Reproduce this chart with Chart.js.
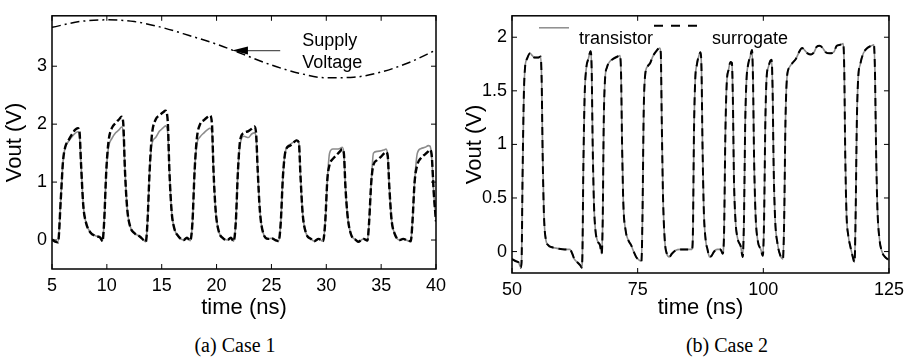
<!DOCTYPE html>
<html>
<head>
<meta charset="utf-8">
<script src="https://cdn.jsdelivr.net/npm/chart.js@4.4.0/dist/chart.umd.min.js"></script>
<style>
  body { margin: 0; background: #fff; width: 910px; height: 359px; position: relative; overflow: hidden; }
  .panel { position: absolute; top: 0; }
  .caption { position: absolute; top: 335px; line-height: 20px; font-family: "Liberation Serif", "Times New Roman", serif; font-size: 20px; color: #000; transform: translateX(-50%); white-space: nowrap; }
</style>
</head>
<body>
<div class="panel" style="left:0"><canvas id="case1" width="460" height="321"></canvas></div>
<div class="panel" style="left:460px"><canvas id="case2" width="450" height="321"></canvas></div>
<div class="caption" style="left:235px">(a) Case 1</div>
<div class="caption" style="left:727px">(b) Case 2</div>
<script>
// ---- Case 1 data ----
const case1XTicks = [5, 10, 15, 20, 25, 30, 35, 40];
const case1YTicks = [0, 1, 2, 3];

const supplyTime = [5, 7.5, 10, 12.5, 15, 17.5, 20, 22.5, 25, 27.5, 30, 32.5, 35, 37.5, 40];
const supplyVolt = [3.67, 3.77, 3.80, 3.77, 3.67, 3.53, 3.38, 3.20, 3.02, 2.88, 2.80, 2.81, 2.90, 3.06, 3.28];

const case1Time = [
  5.0, 5.3, 5.55, 5.8, 6.0, 6.2, 6.5, 6.8, 7.1, 7.35, 7.5, 7.65, 7.85, 8.1, 8.5, 9.0, 9.4, 9.6,
  9.75, 9.95, 10.15, 10.45, 10.8, 11.1, 11.35, 11.5, 11.65, 11.85, 12.1, 12.5, 13.0, 13.35, 13.55,
  13.7, 13.9, 14.1, 14.45, 14.8, 15.1, 15.35, 15.55, 15.7, 15.9, 16.15, 16.5, 17.0, 17.3, 17.6,
  17.8, 18.0, 18.2, 18.5, 18.85, 19.15, 19.4, 19.58, 19.72, 19.92, 20.2, 20.6, 21.0, 21.3, 21.55,
  21.75, 21.95, 22.15, 22.5, 22.9, 23.2, 23.45, 23.6, 23.75, 23.95, 24.25, 24.7, 25.0, 25.35, 25.65,
  25.85, 26.05, 26.3, 26.7, 27.0, 27.3, 27.5, 27.65, 27.85, 28.15, 28.6, 28.9, 29.3, 29.7,
  29.9, 30.1, 30.3, 30.6, 30.95, 31.25, 31.45, 31.6, 31.75, 31.95, 32.25, 32.7, 32.9, 33.4, 33.75,
  33.9, 34.1, 34.3, 34.65, 35.0, 35.3, 35.45, 35.6, 35.75, 35.95, 36.25, 36.7, 37.0, 37.4, 37.7,
  37.85, 38.05, 38.3, 38.65, 39.0, 39.3, 39.45, 39.6, 39.8, 40.0
];
const case1Transistor = [
  0.01, -0.03, -0.04, 0.7, 1.35, 1.6, 1.7, 1.78, 1.84, 1.87, 1.8, 1.3, 0.6, 0.3, 0.13, 0.07, 0.04, -0.02,
  0.3, 1.2, 1.6, 1.75, 1.85, 1.9, 1.95, 1.85, 1.2, 0.55, 0.25, 0.12, 0.06, 0.0, -0.03,
  0.3, 1.2, 1.65, 1.77, 1.88, 1.93, 1.97, 1.85, 1.2, 0.5, 0.2, 0.07, 0.0, 0.04, -0.01,
  0.3, 1.2, 1.65, 1.78, 1.85, 1.9, 1.93, 1.85, 1.2, 0.5, 0.15, 0.03, 0.0, 0.04, -0.02,
  0.3, 1.2, 1.65, 1.79, 1.77, 1.83, 1.85, 1.78, 1.2, 0.5, 0.12, 0.02, 0.03, 0.0, -0.02,
  0.3, 1.1, 1.55, 1.65, 1.69, 1.72, 1.68, 1.1, 0.45, 0.12, 0.02, -0.02, 0.02, -0.02,
  0.3, 1.05, 1.5, 1.57, 1.57, 1.58, 1.6, 1.5, 0.9, 0.4, 0.1, 0.0, -0.03, 0.02, -0.01,
  0.3, 1.0, 1.5, 1.53, 1.54, 1.56, 1.57, 1.45, 0.9, 0.35, 0.1, 0.0, 0.02, -0.01, -0.02,
  0.3, 1.0, 1.5, 1.58, 1.6, 1.63, 1.62, 1.45, 0.8, 0.32
];
const case1Surrogate = [
  0.01, -0.03, -0.04, 0.7, 1.35, 1.6, 1.72, 1.82, 1.9, 1.93, 1.88, 1.3, 0.6, 0.3, 0.13, 0.07, 0.04, -0.02,
  0.3, 1.2, 1.7, 1.93, 2.02, 2.08, 2.13, 2.0, 1.2, 0.55, 0.25, 0.12, 0.06, 0.0, -0.03,
  0.3, 1.2, 1.8, 2.08, 2.15, 2.2, 2.23, 2.05, 1.2, 0.5, 0.2, 0.07, 0.0, 0.04, -0.01,
  0.3, 1.2, 1.75, 2.0, 2.07, 2.12, 2.15, 2.0, 1.2, 0.5, 0.15, 0.03, 0.0, 0.04, -0.02,
  0.3, 1.2, 1.72, 1.85, 1.88, 1.92, 1.96, 1.85, 1.2, 0.5, 0.12, 0.02, 0.03, 0.0, -0.02,
  0.3, 1.1, 1.55, 1.63, 1.68, 1.72, 1.68, 1.1, 0.45, 0.12, 0.02, -0.02, 0.02, -0.02,
  0.3, 1.05, 1.3, 1.4, 1.47, 1.53, 1.57, 1.5, 0.9, 0.4, 0.1, 0.0, -0.03, 0.02, -0.01,
  0.3, 1.0, 1.3, 1.38, 1.44, 1.5, 1.52, 1.45, 0.9, 0.35, 0.1, 0.0, 0.02, -0.01, -0.02,
  0.3, 1.0, 1.3, 1.42, 1.48, 1.53, 1.56, 1.48, 0.8, 0.32
];

// ---- Case 2 data ----
const case2XTicks = [50, 75, 100, 125];
const case2YTicks = [0, 0.5, 1, 1.5, 2];

const case2Time = [
  50.0, 50.8, 51.3, 51.75, 51.9, 52.1, 52.35, 52.6, 53.0, 53.6, 54.0, 54.5, 55.2, 55.7, 55.9, 56.1, 56.35, 56.7,
  57.2, 58.0, 59.0, 60.5, 61.5, 62.0, 62.4, 63.0, 63.6, 63.85, 64.0, 64.2, 64.45, 64.75, 65.2, 65.65, 65.85,
  66.05, 66.3, 66.6, 67.0, 67.5, 67.85, 68.05, 68.25, 68.5, 68.9, 69.4, 70.2, 71.0, 71.5, 71.7, 71.9, 72.15,
  72.6, 73.2, 73.7, 74.2, 74.7, 75.3, 75.75, 75.95, 76.2, 76.5, 77.0, 77.5, 78.0, 78.7, 79.4, 79.6, 79.8,
  80.05, 80.4, 80.8, 81.3, 81.8, 82.5, 83.5, 85.0, 85.8, 86.0, 86.2, 86.45, 86.8, 87.2, 87.5, 87.7, 87.9,
  88.15, 88.5, 88.9, 89.3, 89.7, 90.2, 90.8, 91.5, 91.9, 92.2, 92.45, 92.7, 93.1, 93.5, 93.75, 93.95, 94.15,
  94.45, 94.9, 95.5, 95.9, 96.15, 96.4, 96.65, 97.0, 97.4, 97.75, 97.95, 98.15, 98.45, 98.9, 99.5, 99.9,
  100.15, 100.4, 100.65, 101.0, 101.4, 101.65, 101.85, 102.05, 102.35, 102.8, 103.4, 103.9, 104.15, 104.4,
  104.7, 105.2, 105.8, 106.5, 107.2, 107.7, 108.2, 108.8, 109.5, 110.1, 110.6, 111.2, 111.8, 112.4, 113.2,
  114.0, 114.6, 115.3, 115.9, 116.1, 116.3, 116.55, 116.9, 117.3, 117.8, 118.15, 118.35, 118.6, 118.85,
  119.3, 119.9, 120.7, 121.5, 122.0, 122.2, 122.45, 122.7, 123.1, 123.6, 124.2, 125.0
];
const case2Transistor = [
  -0.07, -0.09, -0.1, -0.15, -0.1, 0.7, 1.45, 1.72, 1.8, 1.85, 1.83, 1.81, 1.81, 1.82, 1.6, 0.9, 0.35, 0.12,
  0.06, 0.04, 0.03, 0.02, 0.02, -0.02, -0.07, -0.1, -0.13, -0.15, -0.05, 0.8, 1.45, 1.7, 1.8, 1.87, 1.7,
  1.0, 0.45, 0.2, 0.1, 0.06, -0.02, 0.3, 1.2, 1.6, 1.72, 1.77, 1.8, 1.82, 1.83, 1.65, 1.0, 0.45,
  0.2, 0.1, 0.06, 0.0, -0.05, -0.08, -0.09, 0.3, 1.3, 1.65, 1.73, 1.76, 1.82, 1.87, 1.9, 1.85, 1.2,
  0.5, 0.1, -0.02, -0.05, -0.02, 0.01, 0.02, 0.02, 0.02, 0.2, 1.1, 1.6, 1.75, 1.83, 1.86, 1.7, 1.0,
  0.4, 0.12, 0.02, -0.05, -0.04, 0.0, 0.02, 0.02, -0.02, 0.2, 1.1, 1.55, 1.7, 1.77, 1.76, 1.4, 0.7,
  0.3, 0.12, 0.05, -0.05, 0.3, 1.2, 1.6, 1.75, 1.82, 1.88, 1.6, 0.9, 0.35, 0.1, 0.02, -0.04,
  0.3, 1.2, 1.62, 1.72, 1.78, 1.79, 1.5, 0.8, 0.3, 0.08, -0.04, -0.07, 0.3, 1.2,
  1.62, 1.72, 1.76, 1.8, 1.87, 1.9, 1.88, 1.85, 1.84, 1.86, 1.91, 1.92, 1.9, 1.86, 1.85,
  1.86, 1.92, 1.93, 1.94, 1.7, 0.9, 0.35, 0.15, 0.05, -0.05, -0.1, 0.3, 1.2, 1.6,
  1.75, 1.85, 1.9, 1.92, 1.93, 1.7, 0.9, 0.4, 0.12, 0.0, -0.05, -0.08
];
// the surrogate trace lies on top of the transistor trace in this case
const case2Surrogate = case2Transistor;

const FONT = '"Liberation Sans", Arial, Helvetica, sans-serif';
Chart.defaults.font.family = FONT;
Chart.defaults.color = '#000';

function pts(xs, ys) {
    return xs.map((x, i) => ({x: x, y: ys[i]}));
}

function xScale(min, max, ticks, height) {
    return {
        type: 'linear', min: min, max: max,
        afterBuildTicks: s => { s.ticks = ticks.map(v => ({value: v})); },
        afterFit: s => { s.height = height; },
        grid: {display: false, drawTicks: false},
        border: {display: false},
        ticks: {font: {size: 18}, color: '#000', padding: 6, maxRotation: 0, autoSkip: false, callback: v => String(v)},
        title: {display: true, text: 'time (ns)', font: {size: 22}, color: '#000', padding: {top: 0, bottom: 0}}
    };
}

function yScale(min, max, ticks) {
    return {
        type: 'linear', min: min, max: max,
        afterBuildTicks: s => { s.ticks = ticks.map(v => ({value: v})); },
        afterFit: s => { s.width = 52; },
        grid: {display: false, drawTicks: false},
        border: {display: false},
        ticks: {font: {size: 18}, color: '#000', padding: 5, autoSkip: false, callback: v => String(v)},
        title: {display: true, text: 'Vout (V)', font: {size: 22}, color: '#000', padding: {top: 2, bottom: 0}}
    };
}

// box round the plot with inward tick marks, matlab style
const framePlugin = {
    id: 'frame',
    afterDatasetsDraw(chart) {
        const {ctx, chartArea: a, scales: {x, y}} = chart;
        ctx.save();
        ctx.strokeStyle = '#000';
        ctx.lineWidth = 1.5;
        ctx.strokeRect(a.left, a.top, a.right - a.left, a.bottom - a.top);
        ctx.lineWidth = 1;
        ctx.beginPath();
        x.ticks.forEach(t => {
            const px = x.getPixelForValue(t.value);
            ctx.moveTo(px, a.bottom); ctx.lineTo(px, a.bottom - 5);
            ctx.moveTo(px, a.top); ctx.lineTo(px, a.top + 5);
        });
        y.ticks.forEach(t => {
            const py = y.getPixelForValue(t.value);
            ctx.moveTo(a.left, py); ctx.lineTo(a.left + 5, py);
            ctx.moveTo(a.right, py); ctx.lineTo(a.right - 5, py);
        });
        ctx.stroke();
        ctx.restore();
    }
};

// "Supply Voltage" note with arrow
const supplyNote = {
    id: 'supplyNote',
    afterDatasetsDraw(chart) {
        const {ctx, scales: {x, y}} = chart;
        const tipX = x.getPixelForValue(21.4), tipY = y.getPixelForValue(3.27);
        const tailX = x.getPixelForValue(25.8);
        ctx.save();
        ctx.strokeStyle = '#555';
        ctx.lineWidth = 1.3;
        ctx.beginPath();
        ctx.moveTo(tipX + 12, tipY);
        ctx.lineTo(tailX, tipY);
        ctx.stroke();
        ctx.fillStyle = '#000';
        ctx.beginPath();
        ctx.moveTo(tipX, tipY);
        ctx.lineTo(tipX + 16, tipY - 4);
        ctx.lineTo(tipX + 16, tipY + 4);
        ctx.closePath();
        ctx.fill();
        ctx.font = '18px ' + FONT;
        ctx.textAlign = 'left';
        ctx.textBaseline = 'middle';
        const tx = x.getPixelForValue(27.8);
        ctx.fillText('Supply', tx, y.getPixelForValue(3.43));
        ctx.fillText('Voltage', tx, y.getPixelForValue(3.05));
        ctx.restore();
    }
};

// legend of case 2, laid out the way the original has it
const case2Legend = {
    id: 'case2Legend',
    afterDatasetsDraw(chart) {
        const {ctx, chartArea: a} = chart;
        ctx.save();
        ctx.lineWidth = 1.5;
        ctx.strokeStyle = '#8c8c8c';
        ctx.beginPath();
        ctx.moveTo(a.left + 27, a.top + 12); ctx.lineTo(a.left + 57, a.top + 12);
        ctx.stroke();
        ctx.strokeStyle = '#000';
        ctx.lineWidth = 2;
        ctx.setLineDash([9, 8]);
        ctx.beginPath();
        ctx.moveTo(a.left + 142, a.top + 10); ctx.lineTo(a.left + 186, a.top + 10);
        ctx.stroke();
        ctx.setLineDash([]);
        ctx.fillStyle = '#000';
        ctx.font = '18px ' + FONT;
        ctx.textAlign = 'left';
        ctx.textBaseline = 'middle';
        ctx.fillText('transistor', a.left + 67, a.top + 23);
        ctx.fillText('surrogate', a.left + 200, a.top + 23);
        ctx.restore();
    }
};

const commonOpts = {
    responsive: false,
    animation: false,
    devicePixelRatio: 1,
    plugins: {legend: {display: false}, tooltip: {enabled: false}},
    elements: {point: {radius: 0}, line: {cubicInterpolationMode: 'monotone'}}
};

new Chart(document.getElementById('case1'), {
    type: 'line',
    data: {
        datasets: [
            {label: 'surrogate', data: pts(case1Time, case1Surrogate), borderColor: '#000', borderWidth: 2.4, borderDash: [7, 3], order: 0},
            {label: 'transistor', data: pts(case1Time, case1Transistor), borderColor: '#8c8c8c', borderWidth: 1.6, order: 1},
            {label: 'supply', data: pts(supplyTime, supplyVolt), borderColor: '#000', borderWidth: 1.5, borderDash: [9, 4, 2, 4], order: 2}
        ]
    },
    options: Object.assign({}, commonOpts, {
        layout: {padding: {left: 0, top: 7, right: 24, bottom: 0}},
        scales: {x: xScale(5, 40, case1XTicks, 52), y: yScale(-0.5, 3.87, case1YTicks)}
    }),
    plugins: [framePlugin, supplyNote]
});

new Chart(document.getElementById('case2'), {
    type: 'line',
    data: {
        datasets: [
            {label: 'surrogate', data: pts(case2Time, case2Surrogate), borderColor: '#000', borderWidth: 2, borderDash: [8, 5], order: 0},
            {label: 'transistor', data: pts(case2Time, case2Transistor), borderColor: '#8c8c8c', borderWidth: 1.6, order: 1}
        ]
    },
    options: Object.assign({}, commonOpts, {
        layout: {padding: {left: 0, top: 3, right: 21, bottom: 0}},
        scales: {x: xScale(50, 125, case2XTicks, 48), y: yScale(-0.2, 2.2, case2YTicks)}
    }),
    plugins: [framePlugin, case2Legend]
});
</script>
</body>
</html>
